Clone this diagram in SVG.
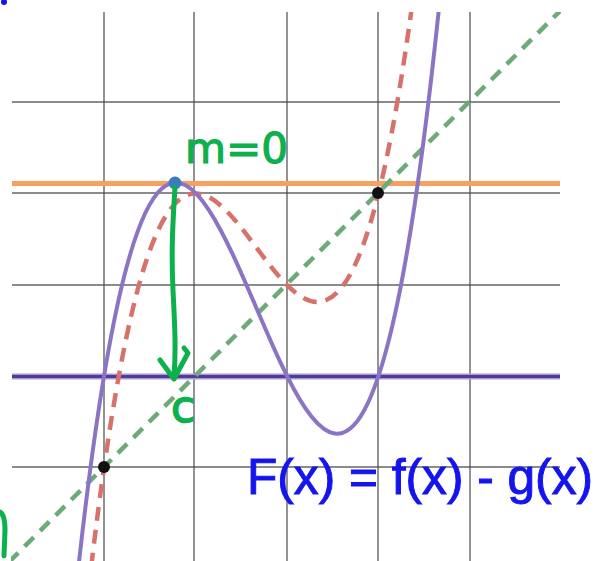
<svg xmlns="http://www.w3.org/2000/svg" width="608" height="561" viewBox="0 0 608 561">
<style>
.grid{stroke:#4a4a4a;stroke-width:1.4;stroke-opacity:0.85;fill:none}
.hand{fill:none;stroke:#0cb04c;stroke-width:5;stroke-linecap:round;stroke-linejoin:round}
.dot{fill:#111}
</style>
<defs>
<clipPath id="plot"><rect x="11" y="12" width="550" height="549"/></clipPath>
</defs>
<rect width="608" height="561" fill="#ffffff"/>
<g id="grid">
<path class="grid" d="M104,12V561M194,12V561M287,12V561M378,12V561M470,12V561"/>
<path class="grid" d="M12,102H560M12,193H560M12,285H560M12,376H560M12,467H560"/>
</g>
<g id="connectors" clip-path="url(#plot)">
<line id="orange-line" x1="12" y1="183.5" x2="560" y2="183.5" stroke="#f7a060" stroke-width="5"/>
<g id="purple-line">
<line x1="12" y1="376.5" x2="560" y2="376.5" stroke="#a898d4" stroke-width="6"/>
<line x1="12" y1="376.5" x2="560" y2="376.5" stroke="#4f3d91" stroke-width="3"/>
</g>
<line id="g-line" x1="9" y1="562" x2="560" y2="11" stroke="#6daa78" stroke-width="4.5" stroke-dasharray="13,9"/>
<path id="f-curve" d="M76.55,703.80 C192.45,-486.50 308.35,921.68 424.25,-92.44" fill="none" stroke="#d9716b" stroke-width="4.5" stroke-dasharray="14,9"/>
<path id="F-curve" d="M67.4,674.66 C195.5,-667.83 323.6,1325.40 451.7,-124.69" fill="none" stroke="#8c74c4" stroke-width="4"/>
</g>
<g id="points">
<circle class="dot" cx="104" cy="467" r="6"/>
<circle class="dot" cx="378" cy="193" r="6"/>
<circle cx="175" cy="183" r="6.5" fill="#3a7cc4"/>
</g>
<g id="arrow">
<path class="hand" d="M175,187 C173,220 171,250 173,290 C175,330 176,350 174,377"/>
<path class="hand" d="M160,360 L174,379 L188,353 L184,348"/>
</g>
<g id="labels">
<text x="185" y="163" font-family="DejaVu Sans, sans-serif" font-size="42" fill="#0cb04c" stroke="#0cb04c" stroke-width="1.2" textLength="103" lengthAdjust="spacingAndGlyphs">m=0</text>
<text x="171" y="422" font-family="DejaVu Sans, sans-serif" font-size="44" fill="#0cb04c" stroke="#0cb04c" stroke-width="1.5">c</text>
<text x="247" y="494" font-family="Liberation Sans, Arial, sans-serif" font-size="50" fill="#1414ee" stroke="#1414ee" stroke-width="1" textLength="346" lengthAdjust="spacingAndGlyphs">F(x) = f(x) - g(x)</text>
</g>
<g id="fragments">
<ellipse cx="4" cy="2" rx="3" ry="3" fill="#1414ee"/>
<path d="M0,512 Q5,515 5,530 L4,556" fill="none" stroke="#0cb04c" stroke-width="5" stroke-linecap="round"/>
</g>
</svg>
